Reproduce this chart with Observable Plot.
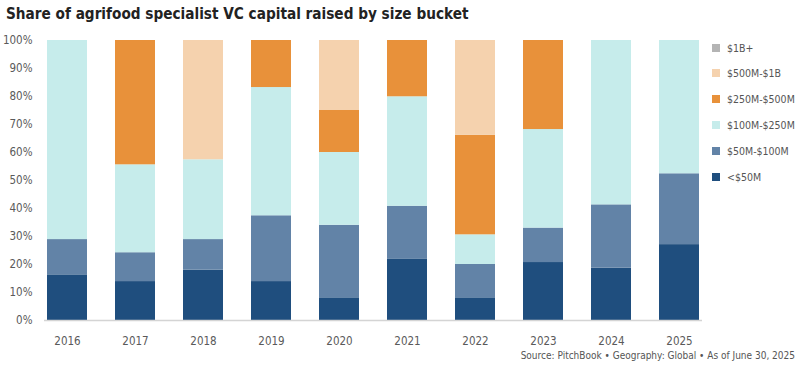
<!DOCTYPE html>
<html>
<head>
<meta charset="utf-8">
<script src="https://cdn.jsdelivr.net/npm/d3@7"></script>
<script src="https://cdn.jsdelivr.net/npm/@observablehq/plot@0.6"></script>
<style>
  html, body { margin: 0; padding: 0; background: #fff; }
  #wrap { position: relative; width: 800px; height: 376px; overflow: hidden;
          font-family: "Liberation Sans Narrow", "DejaVu Sans Condensed", sans-serif; }
  #title { position: absolute; left: 6px; top: 4px; font-size: 15.2px; font-weight: bold;
           color: #222; line-height: 20px; white-space: nowrap; }
  #chart { position: absolute; left: 0; top: 28px; }
  #legend { position: absolute; left: 712px; top: 0; }
  .li { position: absolute; left: 0; white-space: nowrap; font-size: 10.5px; color: #555; line-height: 14px; }
  .sw { position: absolute; left: 0; top: 3px; width: 8px; height: 8px; }
  .lt { position: absolute; left: 15px; top: 0; }
  #footer { position: absolute; right: 5px; top: 350px; font-size: 10px; color: #555; white-space: nowrap; }
</style>
</head>
<body>
<div id="wrap">
  <div id="title">Share of agrifood specialist VC capital raised by size bucket</div>
  <div id="chart"></div>
  <div id="legend"></div>
  <div id="footer">Source: PitchBook  •  Geography: Global  •  As of June 30, 2025</div>
</div>
<script>
const years = ["2016", "2017", "2018", "2019", "2020", "2021", "2022", "2023", "2024", "2025"];
const buckets = ["<$50M", "$50M-$100M", "$100M-$250M", "$250M-$500M", "$500M-$1B", "$1B+"];
const bucketColors = ["#1F4E7E", "#6283A7", "#C6ECEB", "#E8913A", "#F5D2AE", "#B4B4B4"];
const under50M   = [16.3, 13.9, 18.0, 13.9,  8.1, 22.0,  8.1, 20.7, 18.7, 27.1];
const m50to100   = [12.6, 10.3, 10.9, 23.5, 25.9, 18.8, 11.9, 12.3, 22.6, 25.3];
const m100to250  = [71.1, 31.4, 28.5, 45.8, 26.0, 39.1, 10.6, 35.2, 58.7, 47.6];
const m250to500  = [ 0.0, 44.4,  0.0, 16.8, 15.0, 20.1, 35.5, 31.8,  0.0,  0.0];
const m500to1B   = [ 0.0,  0.0, 42.6,  0.0, 25.0,  0.0, 33.9,  0.0,  0.0,  0.0];
const over1B     = [ 0.0,  0.0,  0.0,  0.0,  0.0,  0.0,  0.0,  0.0,  0.0,  0.0];
const yTicks = [0, 0.1, 0.2, 0.3, 0.4, 0.5, 0.6, 0.7, 0.8, 0.9, 1.0];

const series = [under50M, m50to100, m100to250, m250to500, m500to1B, over1B];
const rows = [];
series.forEach((vals, bi) => {
  vals.forEach((v, yi) => rows.push({year: years[yi], bucket: buckets[bi], share: v / 100}));
});

const fontFam = '"Liberation Sans Narrow", "DejaVu Sans Condensed", sans-serif';

const plot = Plot.plot({
  width: 800,
  height: 320,
  marginTop: 12,
  marginBottom: 28,
  marginLeft: 44,
  marginRight: 98,
  style: {fontFamily: fontFam, fontSize: "11.5px", color: "#5a5a5a", background: "transparent"},
  x: {domain: years, paddingInner: 0.414, paddingOuter: 0.025, label: null, tickSize: 0, tickPadding: 16},
  y: {domain: [0, 1], ticks: yTicks, tickFormat: d3.format(".0%"), label: null, tickSize: 0, tickPadding: 12},
  color: {domain: buckets, range: bucketColors},
  marks: [
    Plot.barY(rows, Plot.stackY({order: buckets}, {x: "year", y: "share", z: "bucket", fill: "bucket"})),
    Plot.ruleY([0], {stroke: "#d4d4d4", strokeWidth: 1.5})
  ]
});
document.getElementById("chart").appendChild(plot);

const colorScale = plot.scale("color");
const legend = document.getElementById("legend");
const rowTops = [41, 66, 92, 118, 144, 170];
buckets.slice().reverse().forEach((b, i) => {
  const el = document.createElement("div");
  el.className = "li";
  el.style.top = rowTops[i] + "px";
  const sw = document.createElement("div");
  sw.className = "sw";
  sw.style.background = colorScale.apply(b);
  const t = document.createElement("div");
  t.className = "lt";
  t.textContent = b;
  el.appendChild(sw); el.appendChild(t);
  legend.appendChild(el);
});
</script>
</body>
</html>
